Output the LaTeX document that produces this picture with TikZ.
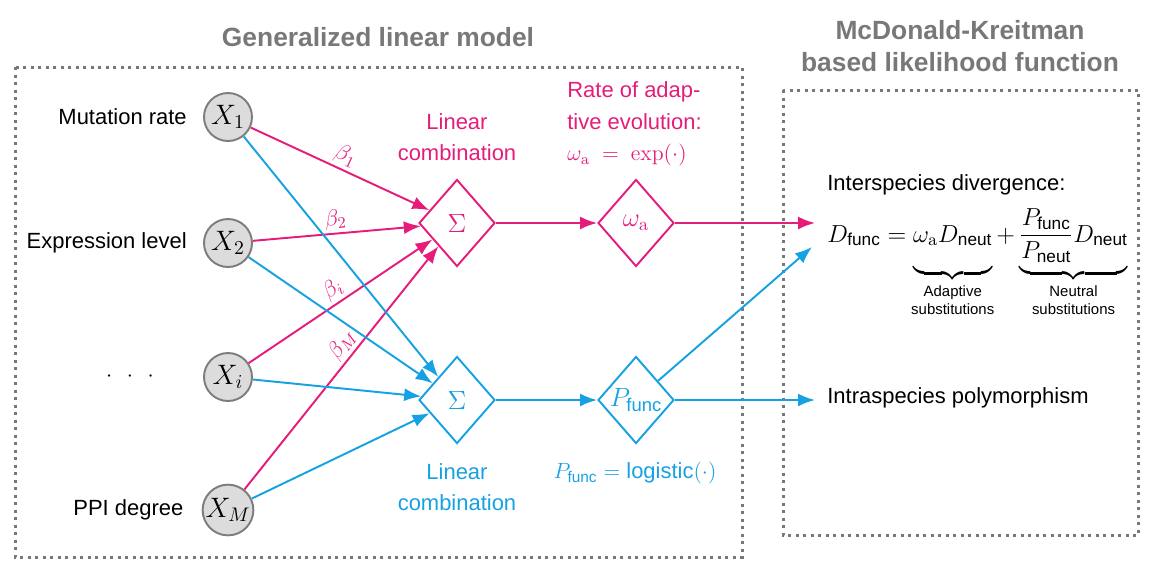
\RequirePackage{fix-cm}
\documentclass[tikz,border=0pt]{standalone}
\usepackage{amsmath,amssymb}
\usepackage[no-math]{fontspec}
\setmainfont{Liberation Sans}
\usepackage{xcolor}
\usepackage{tikz}
\usetikzlibrary{arrows.meta,positioning,calc,shapes.geometric}
\definecolor{PinkC}{RGB}{229,28,122}
\definecolor{BlueC}{RGB}{22,162,226}
\definecolor{FrameC}{RGB}{120,120,120}
\definecolor{VarFill}{RGB}{220,220,220}
\definecolor{VarDraw}{RGB}{125,125,125}
\newcommand{\bracelab}[2]{\text{\makebox[0pt]{\fontsize{8.5}{10.2}\selectfont
  \begin{tabular}{@{}c@{}}#1\\#2\end{tabular}}}}
\newcommand{\bracedepth}{\rule[-14pt]{0pt}{1pt}}
\tikzset{
  var/.style={circle,draw=VarDraw,fill=VarFill,line width=1.1pt,minimum size=9.6mm,
              inner sep=0pt,font=\fontsize{16}{18}\selectfont},
  sumop/.style={diamond,line width=1.1pt,minimum width=15.2mm,minimum height=17.4mm,
                inner sep=0pt,font=\fontsize{15}{17}\selectfont},
  pk/.style={-{Latex[length=3.4mm,width=2.6mm]},line width=1.1pt,PinkC},
  bl/.style={-{Latex[length=3.4mm,width=2.6mm]},line width=1.1pt,BlueC},
  dotbox/.style={draw=FrameC,line width=0.6mm,dash pattern=on 0.6mm off 0.9mm},
  lab/.style={font=\fontsize{12.5}{18}\selectfont,inner sep=0pt},
  head/.style={font=\fontsize{15}{18}\selectfont\bfseries,text=FrameC,align=center},
  coef/.style={font=\fontsize{13}{15}\selectfont,text=PinkC,sloped,above,inner sep=1.5pt},
}
\begin{document}
\begin{tikzpicture}[x=0.2mm,y=-0.2mm]
  \useasboundingbox (0,0) rectangle (1152,576);
  % frames and headings
  \draw[dotbox] (15,67) rectangle (742,557);
  \draw[dotbox] (783,90) rectangle (1138,535);
  \node[head] (glm) at (378,37) {Generalized linear model};
  \node[head] (mk) at (960,46) {McDonald-Kreitman\\based likelihood function};

  % covariates
  \node[var] (x1) at (228,117) {$X_1$};
  \node[var] (x2) at (228,243) {$X_2$};
  \node[var] (xi) at (228,377) {$X_i$};
  \node[var] (xm) at (228,510) {$X_M$};
  \node[lab,left=3.2mm of x1] (t1) {Mutation rate};
  \node[lab,left=3.2mm of x2] (t2) {Expression level};
  \node[lab] (ti) at (130,377) {$\cdot\;\,\cdot\;\,\cdot$};
  \node[lab,left=3.6mm of xm] (tm) {PPI degree};

  % link functions
  \node[sumop,draw=PinkC,text=PinkC] (s1) at (457,223) {$\Sigma$};
  \node[sumop,draw=BlueC,text=BlueC] (s2) at (457,400) {$\Sigma$};
  \node[sumop,draw=PinkC,text=PinkC] (wa) at (636,223) {$\omega_{\mathrm{a}}$};
  \node[sumop,draw=BlueC,text=BlueC] (pf) at (636,400) {$P_{\text{func}}$};
  \node[lab,text=PinkC,align=center] (lc1) at (457,137) {Linear\\combination};
  \node[lab,text=BlueC,align=center] (lc2) at (457,487) {Linear\\combination};
  \node[lab,text=PinkC,align=left,anchor=west] (rate) at (567,124)
    {Rate of adap-\\tive evolution:\\$\omega_{\mathrm{a}}\;=\;\exp(\cdot)$};
  \node[lab,text=BlueC] (logi) at (635,473) {$P_{\text{func}} = \text{logistic}(\cdot)$};

  \draw[pk] (x1) -- node[coef] {$\beta_1$} (s1);
  \draw[pk] (x2) -- node[coef] {$\beta_2$} (s1);
  \draw[pk] (xi) -- node[coef] {$\beta_i$} (s1);
  \draw[pk] (xm) -- node[coef,pos=0.56] {$\beta_M$} (s1);
  \foreach \v in {x1,x2,xi,xm}
    \draw[bl] (\v) -- (s2);
  \draw[pk] (s1) -- (wa);
  \draw[bl] (s2) -- (pf);

  % likelihood side
  \node[lab,anchor=base west] (inter) at (827,190) {Interspecies divergence:};
  \node[anchor=base west,inner sep=0pt,font=\fontsize{14}{16}\selectfont] (eq) at (827,242)
    {$D_{\text{func}} = \underbrace{\omega_{\mathrm{a}} D_{\text{neut}}\bracedepth}_{\bracelab{Adaptive}{substitutions}}
      + \underbrace{\dfrac{P_{\text{func}}}{P_{\text{neut}}} D_{\text{neut}}\bracedepth}_{\bracelab{Neutral}{substitutions}}$};
  \node[lab,anchor=west] (intra) at (827,398) {Intraspecies polymorphism};
  \coordinate (dpk) at (815,223);
  \coordinate (dbl) at (812,247);
  \draw[pk] (wa) -- (dpk);
  \draw[bl] (pf) -- (dbl);
  \draw[bl,shorten >=2.4mm] (pf) -- (pf -| intra.west);
\end{tikzpicture}
\end{document}
